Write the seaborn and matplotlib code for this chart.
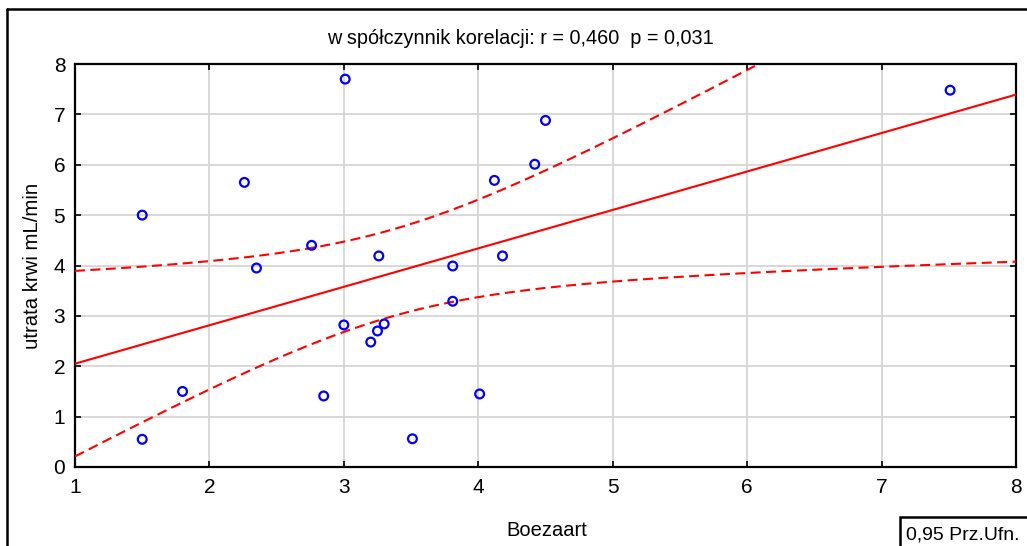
import numpy as np
import pandas as pd
import seaborn as sns
import matplotlib
matplotlib.use("Agg")
import matplotlib.pyplot as plt
from matplotlib.patches import Rectangle
from matplotlib.lines import Line2D

# ---- data ----
boezaart = [1.50, 1.50, 1.80, 2.26, 2.35, 2.76, 3.01, 2.85, 3.00, 3.20, 3.25,
            3.30, 3.26, 3.51, 3.81, 3.81, 4.01, 4.12, 4.18, 4.42, 4.50, 7.51]
utrata = [5.00, 0.55, 1.50, 5.65, 3.95, 4.40, 7.70, 1.41, 2.82, 2.48, 2.70,
          2.84, 4.19, 0.56, 3.99, 3.29, 1.45, 5.69, 4.19, 6.01, 6.88, 7.48]
x_ticks = [1, 2, 3, 4, 5, 6, 7, 8]
y_ticks = [0, 1, 2, 3, 4, 5, 6, 7, 8]
title_text = "w spółczynnik korelacji: r = 0,460  p = 0,031"
x_label = "Boezaart"
y_label = "utrata krwi mL/min"
legend_text = "0,95 Prz.Ufn."
t_crit = 2.086  # t(0.975, df=20)

df = pd.DataFrame({"Boezaart": boezaart, "utrata": utrata})

sns.set_theme(style="white")
plt.rcParams["font.family"] = ["Liberation Sans", "DejaVu Sans"]

W, H = 1027, 546
fig = plt.figure(figsize=(W / 100, H / 100), dpi=100)
ax = fig.add_axes([75 / W, 1 - 467 / H, (1016 - 75) / W, (467 - 64) / H])
ax.set_xlim(1, 8)
ax.set_ylim(0, 8)

# regression line
sns.regplot(data=df, x="Boezaart", y="utrata", ax=ax, scatter=False, ci=None,
            truncate=False, line_kws=dict(color="#ff0000", lw=1.5, zorder=3))

# 95% confidence band for the mean (dashed)
x = np.asarray(boezaart)
y = np.asarray(utrata)
n = len(x)
b1, b0 = np.polyfit(x, y, 1)
resid = y - (b0 + b1 * x)
s = np.sqrt(np.sum(resid ** 2) / (n - 2))
sxx = np.sum((x - x.mean()) ** 2)
xg = np.linspace(1, 8, 200)
yg = b0 + b1 * xg
half = t_crit * s * np.sqrt(1 / n + (xg - x.mean()) ** 2 / sxx)
dash = (0, (4.8, 2.6))
ax.plot(xg, yg + half, color="#ff0000", lw=1.5, ls=dash, zorder=3)
ax.plot(xg, yg - half, color="#ff0000", lw=1.5, ls=dash, zorder=3)

# points
sns.scatterplot(data=df, x="Boezaart", y="utrata", ax=ax, marker="o", s=40,
                facecolor="none", edgecolor="#0000ff", linewidth=1.6, zorder=4)

ax.set_xticks(x_ticks)
ax.set_yticks(y_ticks)
ax.set_xticklabels([str(v) for v in x_ticks])
ax.set_yticklabels([str(v) for v in y_ticks])
ax.grid(True, color="#d6d6d6", lw=1.3, zorder=0)
ax.set_axisbelow(True)
for sp in ax.spines.values():
    sp.set_visible(True)
    sp.set_color("black")
    sp.set_linewidth(1.6)
ax.tick_params(axis="both", which="both", direction="in", length=4, width=1.2,
               color="black", labelsize=15, top=True, right=True,
               bottom=True, left=True, labelcolor="black")
ax.tick_params(axis="x", pad=8)
ax.tick_params(axis="y", pad=7)

ax.set_xlabel(x_label, fontsize=14.5, color="black", va="center")
ax.xaxis.set_label_coords((547 - 75) / (1016 - 75), (467 - 530) / (467 - 64))
ax.set_ylabel(y_label, fontsize=14.7, color="black", va="center")
ax.yaxis.set_label_coords((33 - 75) / (1016 - 75), (467 - 266) / (467 - 64))

fig.text(520 / W, 1 - 38 / H, title_text, ha="center", va="center",
         fontsize=14.3, color="black")

# outer frame (runs off the right/bottom edges)
fig.add_artist(Line2D([7 / W, 1.01], [1 - 9 / H, 1 - 9 / H],
                      transform=fig.transFigure, color="black", lw=1.8))
fig.add_artist(Line2D([7 / W, 7 / W], [-0.01, 1 - 9 / H],
                      transform=fig.transFigure, color="black", lw=1.8))

# legend box "0,95 Prz.Ufn."
fig.add_artist(Rectangle((900 / W, -0.05), 0.2, (546 - 517) / H + 0.05,
                         transform=fig.transFigure, fill=False,
                         edgecolor="black", lw=1.8))
fig.text(906 / W, 1 - 535 / H, legend_text, ha="left", va="center",
         fontsize=14, color="black")

fig.savefig("out.png", dpi=100)
